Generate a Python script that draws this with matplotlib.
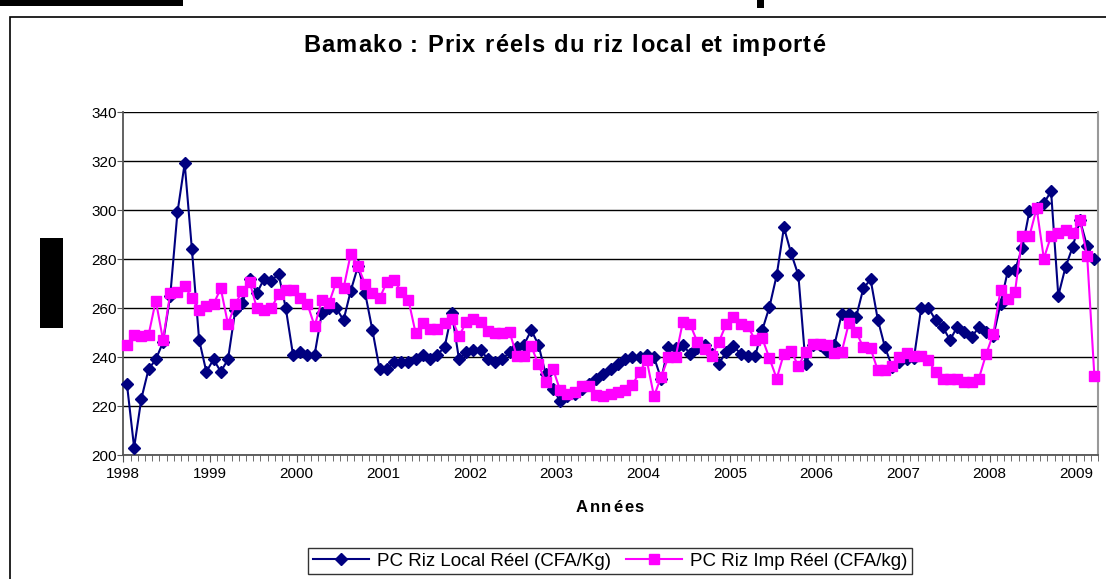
import matplotlib
matplotlib.use("Agg")
import matplotlib.pyplot as plt
from matplotlib.patches import Rectangle
from matplotlib.lines import Line2D
from matplotlib.font_manager import findfont, FontProperties, get_font

plt.rcParams['font.family'] = ['Liberation Sans', 'DejaVu Sans']

# ---------------- data (monthly, Jan 1998 - Mar 2009) ----------------
years = list(range(1998, 2010))
local_reel = [
    229, 203, 223, 235, 239, 246, 265, 299, 319, 284, 247, 234,
    239, 234, 239, 259, 262, 272, 266, 272, 271, 274, 260, 241,
    242, 241, 241, 258, 260, 260, 255, 267, 277, 266, 251, 235,
    235, 238, 238, 238, 239, 241, 239, 241, 244, 258, 239, 242,
    243, 243, 239, 238, 239, 242, 244, 245, 251, 245, 233, 227,
    222, 224, 225, 227, 229, 231, 233, 235, 237, 239, 240, 240,
    241, 240, 231, 244, 243.5, 244.8, 241.4, 243.5, 244.8, 241.4, 237.3, 242.1,
    244.4, 241.4, 240.3, 240.3, 251, 260.5, 273.4, 292.9, 282.3, 273.4, 237, 244.8,
    244.8, 242.5, 245, 257.5, 257.5, 256.4, 268, 271.7, 255.3, 243.9, 236, 238,
    239, 239.4, 259.8, 260.2, 255, 252.3, 246.9, 252.3, 250.3, 248, 252.3, 250.3,
    248.5, 261.8, 275, 275.5, 284.3, 299.5, 301, 302.7, 307.7, 265, 276.7, 285,
    295.8, 285.2, 280,
]
imp_reel = [
    245, 249, 248.5, 249, 263, 247, 266, 266.6, 269, 264, 259, 261,
    261.6, 268, 253.4, 261.6, 267, 270.7, 259.8, 259.1, 259.8, 265.7, 267.3, 267.3,
    263.9, 261.6, 252.6, 263.2, 262.1, 270.7, 268, 282, 277.1, 269.7, 266, 263.9,
    270.7, 271.4, 266.6, 263.2, 249.6, 253.9, 251.6, 251.6, 253.7, 255.7, 248.5, 254.3,
    255.7, 254.3, 250.7, 249.6, 249.6, 250.3, 240.3, 240.3, 244.4, 237, 229.8, 235.3,
    226.4, 225.1, 225.8, 228.1, 228.1, 224.4, 224.2, 224.8, 225.8, 226.7, 228.5, 233.9,
    238.7, 224, 231.9, 240, 240, 254.3, 253.4, 246.2, 243.1, 240.3, 246.2, 253.4,
    256.4, 253.4, 252.6, 246.9, 247.6, 239.4, 231.2, 241.4, 242.5, 236.2, 242.1, 245.5,
    245.5, 244.8, 241.7, 242.1, 253.9, 250.3, 243.9, 243.5, 234.6, 234.6, 236.2, 239.8,
    241.7, 240.3, 240.3, 238.7, 233.9, 231.2, 231.2, 231.2, 229.8, 229.8, 231.2, 241.1,
    249.5, 267.3, 263.5, 266.4, 289.3, 289.3, 300.7, 280.2, 289.4, 290.5, 291.8, 290.5,
    295.9, 281.2, 232.2,
]
yticks = [200, 220, 240, 260, 280, 300, 320, 340]

title = "Bamako : Prix réels du riz local et importé"
xlabel = "Années"
label_local = "PC Riz Local Réel (CFA/Kg)"
label_imp = "PC Riz Imp Réel (CFA/kg)"

# ---------------- figure ----------------
W, H = 1106, 579
DPI = 100
fig = plt.figure(figsize=(W / DPI, H / DPI), dpi=DPI)


def fx(px):
    return px / W


def fy(py):
    return 1 - py / H


def spaced_text(s, xc, yc, width, size, weight='normal'):
    """Draw text with extra letter spacing so that it spans `width` px."""
    fp = FontProperties(family='Liberation Sans', weight=weight, size=size)
    font = get_font(findfont(fp))
    font.set_size(size, DPI)
    adv = [font.load_char(ord(c)).linearHoriAdvance / 65536 for c in s]
    natural = sum(adv)
    extra = max((width - natural) / max(len(s) - 1, 1), 0)
    xpos = xc - (natural + extra * (len(s) - 1)) / 2
    for c, a in zip(s, adv):
        if c != ' ':
            fig.text(fx(xpos), fy(yc), c, ha='left', va='center',
                     fontproperties=fp)
        xpos += a + extra


# outer chart border
fig.patches.append(Rectangle((fx(10), fy(600)), fx(1110) - fx(10), fy(17) - fy(600),
                             transform=fig.transFigure, fill=False, ec='black', lw=1.2))
# black remnants of the surrounding document
fig.patches.append(Rectangle((fx(0), fy(6)), fx(183), fy(0) - fy(6),
                             transform=fig.transFigure, color='black', lw=0))
fig.patches.append(Rectangle((fx(757), fy(8)), fx(7), fy(0) - fy(8),
                             transform=fig.transFigure, color='black', lw=0))
fig.patches.append(Rectangle((fx(40), fy(328)), fx(23), fy(238) - fy(328),
                             transform=fig.transFigure, color='black', lw=0))

left, right = 123.3, 1098
top, bottom = 112, 455
ax = fig.add_axes([fx(left), fy(bottom), fx(right) - fx(left), fy(top) - fy(bottom)])

x = list(range(len(local_reel)))
xi = list(range(len(imp_reel)))
ax.plot(x, local_reel, color='#000080', lw=1.5, marker='D', ms=6.3,
        mfc='#000080', mec='#000080', zorder=3, clip_on=False)
ax.plot(xi, imp_reel, color='#FF00FF', lw=1.5, marker='s', ms=7.2,
        mfc='#FF00FF', mec='#FF00FF', zorder=4, clip_on=False)

n = len(local_reel)
ax.set_xlim(-0.5, n - 0.5)
ax.set_ylim(200, 340)
ax.set_yticks(yticks)
ax.set_yticklabels([str(v) for v in yticks], fontsize=11)
ax.yaxis.grid(True, color='black', lw=1)
ax.set_axisbelow(True)

ax.set_xticks([-0.5 + 12 * k for k in range(len(years))])
ax.set_xticklabels([str(y) for y in years], fontsize=11)
ax.set_xticks([-0.5 + k for k in range(n + 1)], minor=True)
ax.tick_params(axis='x', which='major', length=5, direction='out', color='#555555', pad=4)
ax.tick_params(axis='x', which='minor', length=4, direction='out', color='#555555')
ax.tick_params(axis='y', which='major', length=4, direction='out', color='#555555', pad=0.5)

for s in ['left', 'bottom']:
    ax.spines[s].set_color('#555555')
    ax.spines[s].set_linewidth(1.3)
ax.spines['right'].set_color('#999999')
ax.spines['right'].set_linewidth(1.5)
ax.spines['top'].set_visible(False)

spaced_text(title, 564, 45, 522, 17, 'bold')
spaced_text(xlabel, 610, 507, 68, 12, 'bold')

h1 = Line2D([], [], color='#000080', lw=1.5, marker='D', ms=6.3)
h2 = Line2D([], [], color='#FF00FF', lw=1.5, marker='s', ms=7.2)
leg = fig.legend([h1, h2], [label_local, label_imp], loc='center',
                 bbox_to_anchor=(fx(610), fy(561)), ncol=2, fontsize=13.5,
                 frameon=True, fancybox=False, edgecolor='black', handlelength=3.0,
                 columnspacing=0.8, handletextpad=0.4, borderpad=0.25)
leg.get_frame().set_linewidth(1)

fig.savefig('out.png', dpi=DPI)
